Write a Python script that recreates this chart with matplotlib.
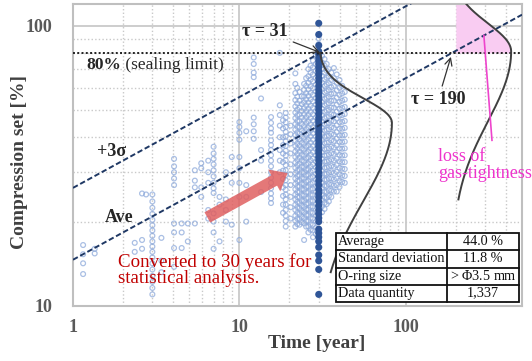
import numpy as np
import matplotlib
matplotlib.use("Agg")
import matplotlib.pyplot as plt
from matplotlib.patches import Rectangle
from matplotlib.ticker import FixedLocator, NullFormatter

plt.rcParams["font.family"] = ["Liberation Serif", "DejaVu Serif"]
plt.rcParams["mathtext.fontset"] = "custom"
plt.rcParams["mathtext.rm"] = "Liberation Serif"
plt.rcParams["mathtext.it"] = "Liberation Serif:italic"

# ---------------------------------------------------------------- data
average_cs = 44.0          # mean compression set converted to 30 years [%]
std_cs = 11.8              # standard deviation [%]
base_years = 30            # conversion period
sealing_limit = 80         # [%]
tau_3sigma = 31            # +3 sigma line reaches the limit
tau_ave = 190              # average line reaches the limit
oring_size = r"> $\mathit{\Phi}$3.5 mm"
data_quantity = "1,337"

table_labels = ["Average", "Standard deviation", "O-ring size", "Data quantity"]
table_values = [f"{average_cs:.1f} %", f"{std_cs:.1f} %", oring_size, data_quantity]

x_ticks = [1, 10, 100]
x_tick_labels = ["1", "10", "100"]
y_ticks = [10, 100]
y_tick_labels = ["10", "100"]

# measured compression set, grouped by elapsed time [year]
light_t = [1.15, 1.35, 2.35, 2.6, 2.75, 3.0, 3.4, 4.05, 4.5, 4.9, 5.4, 5.9,
           6.5, 7.0, 7.6, 8.3, 9.0, 10.0, 11.0, 12.2, 13.5, 15.5, 17.5,
           18.3, 19.0, 20.3, 21.7, 22.3, 23.0, 23.7, 24.5, 25.2, 26.0, 26.8,
           27.7, 28.8, 30.0, 31.4, 32.5, 33.5, 34.5, 35.7, 37.0, 38.5, 40.0,
           41.5, 43.0]
light_cs = [
    [16.5, 15.3, 14.2, 13.0],
    [16.0, 15.4],
    [16.8, 15.6],
    [17.2, 16.0, 25.2],
    [25.0],
    [25.0, 23.6, 22.4, 21.3, 20.3, 19.4, 18.6, 17.8, 17.0, 16.3, 15.6, 14.9,
     14.2, 13.5, 12.8, 12.2, 11.6, 11.0],
    [17.5, 14.5, 13.2],
    [33.5, 31.5, 30.0, 28.5, 27.0, 19.7, 18.3, 16.1, 13.8],
    [19.7, 18.3, 16.1],
    [19.7, 17.0],
    [30.5, 28.0, 26.5, 19.7],
    [32.3, 31.0, 26.5, 24.5],
    [33.0, 30.0, 27.5, 22.0, 20.5],
    [37.0, 35.0, 33.5, 32.0, 30.5, 29.0, 27.5, 26.3, 25.3, 21.4, 20.0, 18.3, 16.0],
    [24.5, 23.0, 17.0],
    [30.0, 24.0, 22.0, 20.0],
    [34.0, 27.5, 19.5],
    [45.3, 43.5, 41.5, 39.2, 34.0, 31.0, 27.5, 24.5, 17.2],
    [42.0, 27.0, 24.5, 20.0],
    [77.0, 73.0, 68.0, 65.5, 47.0, 44.5, 42.0, 39.5],
    [55.0, 36.0, 33.0, 25.5],
    [47.2, 45.0, 43.0, 41.5, 39.0, 37.5, 36.0, 34.5, 33.0, 31.5, 30.0, 28.7,
     27.5, 26.3, 25.2, 24.2, 23.3],
    [80.0, 52.0, 48.0, 44.0, 40.0, 36.0, 33.0, 30.0],
    [46.0, 43.0, 40.0, 37.5, 35.0, 32.6, 30.4, 28.4, 26.5, 24.7, 23.0, 21.5],
    [48.8, 47.0, 45.2, 43.5, 41.8, 40.2, 38.7, 37.2, 35.8, 34.4, 33.1, 31.8,
     30.5, 29.3, 28.1, 27.0, 26.0, 25.0, 24.0, 23.0, 22.0, 21.0, 20.1, 19.2],
    [44.0, 41.0, 38.0, 35.0, 32.0, 29.5, 27.0, 24.5, 22.5, 20.5],
    [67.6, 62.0, 57.5, 54.3, 51.5, 49.0, 46.8, 44.6, 42.6, 40.7, 38.9, 37.2,
     35.6, 34.0, 32.5, 31.1, 29.8, 28.5, 27.3, 26.1, 25.0, 24.0, 23.0, 22.0,
     21.0, 20.1, 19.2],
    [60.0, 55.8, 52.8, 50.2, 47.9, 45.7, 43.6, 41.6, 39.8, 38.0, 36.4, 34.8,
     33.2, 31.8, 30.4, 29.1, 27.9, 26.7, 25.5, 24.5, 23.5, 22.5, 21.5, 20.5, 19.6],
    [58.0, 54.0, 51.0, 48.2, 45.7, 43.4, 41.2, 39.2, 37.3, 35.5, 33.8, 32.2,
     30.7, 29.3, 28.0, 26.7, 25.5, 24.4, 23.3, 22.3, 21.3, 20.4, 19.5],
    [56.0, 52.5, 49.6, 47.0, 44.6, 42.3, 40.2, 38.2, 36.4, 34.6, 33.0, 31.4,
     30.0, 28.6, 27.3, 26.1, 24.9, 23.8, 22.8, 21.8, 20.8, 19.9],
    [62.0, 59.0, 56.0, 53.3, 50.8, 48.4, 46.1, 43.9, 41.8, 39.8, 37.9, 36.1,
     34.4, 32.8, 31.3, 29.9, 28.5, 27.2, 26.0, 24.8, 23.7, 22.6, 21.6, 20.6,
     19.7, 17.2],
    [65.0, 61.0, 57.5, 54.6, 52.0, 49.6, 47.2, 45.0, 42.8, 40.8, 38.8, 37.0,
     35.2, 33.6, 32.0, 30.6, 29.2, 27.8, 26.6, 25.4, 24.2, 23.1, 22.1, 21.1,
     20.1, 19.2],
    [70.0, 66.0, 62.5, 59.2, 56.1, 53.2, 50.5, 48.0, 45.6, 43.4, 41.3, 39.3,
     37.4, 35.6, 33.9, 32.3, 30.8, 29.4, 28.0, 26.7, 25.5, 24.3, 23.2, 22.1,
     21.1, 20.1, 19.2, 18.3],
    [72.0, 68.0, 64.2, 60.8, 57.6, 54.6, 51.8, 49.2, 46.8, 44.5, 42.3, 40.3,
     38.3, 36.5, 34.7, 33.1, 31.5, 30.1, 28.7, 27.3, 26.1, 24.9, 23.7, 22.6,
     21.6, 20.6, 19.6, 18.7],
    [75.0, 71.0, 67.0, 63.3, 59.9, 56.7, 53.7, 50.9, 48.3, 45.8, 43.5, 41.3,
     39.2, 37.2, 35.4, 33.6, 32.0, 30.4, 28.9, 27.5, 26.2, 24.9, 23.7, 22.6,
     21.5, 20.5, 19.5, 18.6, 17.6],
    [78.0, 73.0, 69.0, 65.1, 61.6, 58.3, 55.2, 52.3, 49.6, 47.0, 44.6, 42.4,
     40.2, 38.2, 36.3, 34.5, 32.8, 31.2, 29.6, 28.2, 26.8, 25.5, 24.3, 23.1,
     22.0, 21.0, 20.0, 19.0, 18.1],
    [90.0, 86.0],
    [78.0, 74.0, 70.0, 66.2, 62.7, 59.4, 56.3, 53.4, 50.6, 48.0, 45.6, 43.3,
     41.1, 39.1, 37.1, 35.3, 33.5, 31.9, 30.3, 28.9, 27.5, 26.2, 25.0, 23.8,
     22.7, 21.6],
    [76.0, 72.0, 68.0, 64.4, 61.0, 57.8, 54.8, 52.0, 49.3, 46.8, 44.4, 42.2,
     40.1, 38.1, 36.2, 34.4, 32.7, 31.1, 29.6, 28.2, 26.9, 25.6, 24.4, 23.3, 22.2],
    [73.0, 69.0, 65.2, 61.7, 58.4, 55.3, 52.5, 49.8, 47.2, 44.8, 42.5, 40.4,
     38.3, 36.4, 34.5, 32.8, 31.2, 29.6, 28.2, 26.8, 25.5, 24.3, 23.1],
    [70.0, 66.0, 62.4, 59.0, 55.8, 52.9, 50.1, 47.5, 45.0, 42.7, 40.5, 38.4,
     36.5, 34.7, 33.0, 31.4, 29.9, 28.5, 27.2, 25.9, 24.7, 23.6],
    [68.0, 64.0, 60.3, 57.0, 53.9, 51.0, 48.3, 45.8, 43.4, 41.1, 39.0, 37.0,
     35.1, 33.3, 31.6, 30.0, 28.5, 27.1, 25.8, 24.5],
    [70.6, 65.0, 61.0, 57.4, 54.1, 51.0, 48.2, 45.6, 43.2, 40.9, 38.8, 36.8,
     34.9, 33.1, 31.4, 29.8, 28.3, 26.9, 25.6],
    [67.0, 62.5, 58.7, 55.3, 52.2, 49.3, 46.6, 44.1, 41.7, 39.5, 37.4, 35.4,
     33.5, 31.8, 30.1, 28.5, 27.0, 25.6],
    [64.0, 60.0, 56.6, 53.4, 50.5, 47.8, 45.3, 42.9, 40.6, 38.5, 36.5, 34.6,
     32.8, 31.1, 29.5, 28.0, 26.6],
    [61.0, 57.3, 54.0, 50.9, 48.0, 45.4, 42.9, 40.6, 38.4, 36.4, 34.4, 32.6,
     30.9, 29.2, 27.7],
    [58.0, 54.5, 51.3, 48.4, 45.7, 43.2, 40.8, 38.6, 36.5, 34.5, 32.6, 30.8,
     29.1, 27.5],
]

# values converted to 30 years
converted_cs = [102, 93, 85, 81, 79, 77, 75, 73, 71, 69, 67, 65, 63, 61, 59,
                57.5, 56, 54.5, 53, 51.5, 50, 48.5, 47, 46, 45, 44, 43, 42, 41,
                40, 39, 38, 37, 36, 35, 34, 33, 32, 31, 30, 29, 28, 27, 26,
                25.2, 24.4, 23.6, 22.8, 22, 21.3, 20.6, 20, 18.8, 18.2, 17.6,
                17, 16.2, 15.2, 14.5, 13.5, 11]

# ---------------------------------------------------------------- figure
W, H, DPI = 532, 361, 100
fig = plt.figure(figsize=(W / DPI, H / DPI), dpi=DPI)
L, R, T, B = 73, 522, 4, 306
ax = fig.add_axes([L / W, (H - B) / H, (R - L) / W, (B - T) / H])
ax.set_xscale("log")
ax.set_yscale("log")
ax.set_xlim(1, 500)
ax.set_ylim(10, 119.5)


def pos(px, py):
    """pixel position inside the plot frame -> axes fraction"""
    return ((px - L) / (R - L), (B - py) / (B - T))


grid_c = "#c9c9c9"
ax.xaxis.set_major_locator(FixedLocator(x_ticks))
ax.yaxis.set_major_locator(FixedLocator(y_ticks))
ax.xaxis.set_minor_locator(FixedLocator(
    [k * d for d in (1, 10, 100) for k in range(2, 10) if k * d <= 500]))
ax.yaxis.set_minor_locator(FixedLocator([k * 10 for k in range(2, 10)]))
ax.xaxis.set_minor_formatter(NullFormatter())
ax.yaxis.set_minor_formatter(NullFormatter())
ax.set_xticklabels(x_tick_labels)
ax.set_yticklabels(y_tick_labels)
ax.grid(which="major", color=grid_c, lw=1.3, ls="-", zorder=0)
ax.grid(which="minor", color=grid_c, lw=1.0, ls=(0, (1, 1.6)), zorder=0)
ax.set_axisbelow(True)
ax.tick_params(which="both", length=0)
ax.tick_params(axis="x", pad=9.5)
ax.tick_params(axis="y", pad=15)
for lab in ax.get_xticklabels() + ax.get_yticklabels():
    lab.set_fontsize(13)
    lab.set_fontweight("bold")
    lab.set_color("#595959")
for sp in ax.spines.values():
    sp.set_color("#bfbfbf")
    sp.set_linewidth(1.5)

# measured data
xs = np.concatenate([[t] * len(v) for t, v in zip(light_t, light_cs)])
ys = np.concatenate([v for v in light_cs])
ax.scatter(xs, ys, s=12, facecolors="none", edgecolors="#8eaadb",
           linewidths=0.9, alpha=0.75, zorder=2)
ax.scatter([base_years] * len(converted_cs), converted_cs, s=26,
           color="#2f5597", edgecolors="none", zorder=3)

# trend lines: average and +3 sigma, both reaching the limit
slope = np.log(sealing_limit / average_cs) / np.log(tau_ave / base_years)
tt = np.geomspace(1, 500, 200)
ave_line = average_cs * (tt / base_years) ** slope
sig_line = (average_cs + 3 * std_cs) * (tt / base_years) ** slope
dash = (0, (2.8, 1.4))
ax.plot(tt, ave_line, color="#1f3864", lw=1.4, ls=dash, zorder=4)
ax.plot(tt, sig_line, color="#1f3864", lw=1.4, ls=dash, zorder=4)

# sealing limit
ax.axhline(sealing_limit, color="#222222", lw=1.4, ls=(0, (1, 1.2)), zorder=4)


def profile(c, peak, s_up, s_low):
    u = np.log10(c) - np.log10(peak)
    s = np.where(u > 0, s_up, s_low)
    return np.exp(-0.5 * (u / s) ** 2)


# distribution at 30 years
c1 = np.geomspace(13.2, sealing_limit, 300)
x1 = base_years * 10 ** (0.44 * profile(c1, 45, 0.088, 0.28))
ax.plot(x1, c1, color="#404040", lw=1.4, zorder=5)

# distribution when the average reaches the limit
c2 = np.geomspace(24, 130, 300)
x2 = tau_ave * 10 ** (0.355 * profile(c2, 81, 0.10, 0.25))
c3 = np.geomspace(sealing_limit, 130, 100)
x3 = tau_ave * 10 ** (0.355 * profile(c3, 81, 0.10, 0.25))
ax.fill_betweenx(c3, 200, x3, color="#f9ccf2", lw=0, zorder=1)
ax.plot(x2, c2, color="#404040", lw=1.4, zorder=5)

# pointer to the pink region
ax.plot([295, 330], [average_cs * (295 / base_years) ** slope, 39],
        color="#ee44cc", lw=1.2, zorder=5)
ax.text(*pos(438, 165), "loss of\ngas-tightness", transform=ax.transAxes,
        fontsize=13, color="#ee33cc", ha="left", va="center",
        linespacing=0.95, zorder=6)

# conversion arrow
ax.annotate("", xy=(19.5, 29.8), xytext=(6.42, 20.7),
            arrowprops=dict(arrowstyle="simple,head_length=1.1,head_width=1.8,"
                                       "tail_width=0.85",
                            mutation_scale=10, fc="#e06060", ec="none",
                            alpha=0.85, shrinkA=0, shrinkB=0), zorder=6)
ax.text(*pos(118, 270), "Converted to 30 years for\nstatistical analysis.",
        transform=ax.transAxes, fontsize=13.6, color="#c00000", ha="left",
        va="center", linespacing=0.88, zorder=6)

# labels on the lines
t80 = ax.text(*pos(86, 65), "80%", transform=ax.transAxes, fontsize=12.5,
              fontweight="bold", color="#262626", ha="left", va="center",
              zorder=6)
ax.annotate(" (sealing limit)", xy=(1, 0), xycoords=t80, fontsize=12.5,
            color="#262626", ha="left", va="bottom", zorder=6)
ax.text(*pos(112, 152), "+3σ", transform=ax.transAxes, fontsize=13,
        fontweight="bold", color="#262626", ha="center", va="center", zorder=6)
ax.text(*pos(119, 218), "Ave", transform=ax.transAxes, fontsize=13,
        fontweight="bold", color="#262626", ha="center", va="center", zorder=6)

arrow_kw = dict(arrowstyle="->", color="#333333", lw=0.9, shrinkA=2, shrinkB=1)
ax.annotate(f"τ = {tau_3sigma}", xy=(tau_3sigma, sealing_limit),
            xytext=pos(265, 31), textcoords="axes fraction", fontsize=13,
            fontweight="bold", color="#262626", ha="center", va="center",
            arrowprops=arrow_kw, zorder=6)
ax.annotate(f"τ = {tau_ave}", xy=(tau_ave, sealing_limit),
            xytext=pos(438, 100), textcoords="axes fraction", fontsize=13,
            fontweight="bold", color="#262626", ha="center", va="center",
            arrowprops=dict(arrow_kw, shrinkB=3), zorder=6)

# summary table
tx0, ty0 = pos(336, 301.7)
tx1, ty1 = pos(519, 233.3)
txm, _ = pos(447.3, 0)
n = len(table_labels)
rh = (ty1 - ty0) / n
ax.add_patch(Rectangle((tx0, ty0), tx1 - tx0, ty1 - ty0, transform=ax.transAxes,
                       facecolor="white", edgecolor="#111111", lw=1.3, zorder=7))
ax.plot([txm, txm], [ty0, ty1], transform=ax.transAxes, color="#111111",
        lw=1.3, zorder=8)
for i in range(1, n):
    ax.plot([tx0, tx1], [ty1 - i * rh] * 2, transform=ax.transAxes,
            color="#111111", lw=1.3, zorder=8)
for i, (lab, val) in enumerate(zip(table_labels, table_values)):
    yc = ty1 - (i + 0.5) * rh
    ax.text(tx0 + 0.004, yc, lab, transform=ax.transAxes, fontsize=10.2,
            ha="left", va="center", color="#111111", zorder=9)
    ax.text((txm + tx1) / 2, yc, val, transform=ax.transAxes, fontsize=10.2,
            ha="center", va="center", color="#111111", zorder=9)

# axis titles
fig.text(317 / W, 1 - 343 / H, "Time [year]", ha="center", va="center",
         fontsize=14, fontweight="bold", color="#404040")
fig.text(20 / W, 1 - 162 / H, "Compression set [%]", ha="center",
         va="center", rotation=90, fontsize=14, fontweight="bold",
         color="#404040")

fig.savefig("out.png", dpi=DPI, facecolor="white")
